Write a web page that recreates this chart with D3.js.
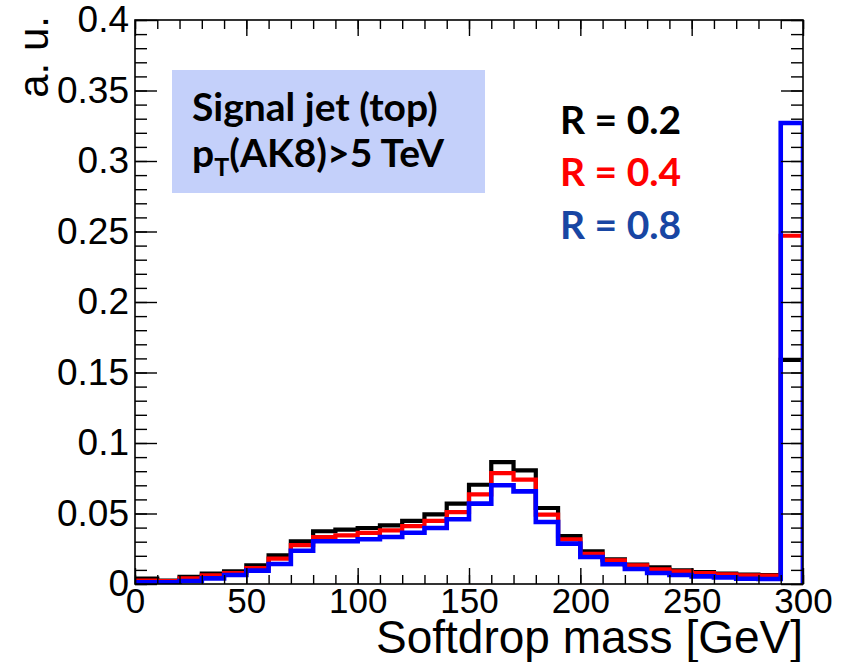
<!DOCTYPE html>
<html><head><meta charset="utf-8">
<script src="https://cdn.jsdelivr.net/npm/d3@7"></script>
<style>html,body{margin:0;padding:0;background:#fff;} svg{display:block;}</style>
</head><body><svg id="c" width="848" height="662"></svg>
<script>
// ---- data ----
const binLow = [0,10,20,30,40,50,60,70,80,90,100,110,120,130,140,150,160,170,180,190,200,210,220,230,240,250,260,270,280,290];
const binWidth = 10;
const seriesLabels = ["R = 0.2", "R = 0.4", "R = 0.8"];
const r02 = [0.0038,0.0024,0.0050,0.0073,0.0090,0.0132,0.0203,0.0302,0.0374,0.0385,0.0397,0.0416,0.0447,0.0494,0.0570,0.0704,0.0865,0.0806,0.0539,0.0340,0.0232,0.0175,0.0137,0.0118,0.0097,0.0085,0.0073,0.0066,0.0064,0.1590];
const r04 = [0.0025,0.0020,0.0040,0.0061,0.0078,0.0113,0.0180,0.0276,0.0333,0.0345,0.0362,0.0380,0.0411,0.0447,0.0510,0.0636,0.0787,0.0740,0.0492,0.0317,0.0213,0.0167,0.0132,0.0104,0.0090,0.0078,0.0069,0.0061,0.0060,0.2470];
const r08 = [0.0012,0.0012,0.0021,0.0040,0.0064,0.0095,0.0142,0.0236,0.0303,0.0303,0.0317,0.0333,0.0364,0.0397,0.0459,0.0570,0.0700,0.0657,0.0440,0.0286,0.0191,0.0140,0.0106,0.0078,0.0064,0.0054,0.0047,0.0037,0.0035,0.3270];
const xTickValues = [0,50,100,150,200,250,300];
const xTickLabels = ["0","50","100","150","200","250","300"];
const yTickValues = [0,0.05,0.1,0.15,0.2,0.25,0.3,0.35,0.4];
const yTickLabels = ["0","0.05","0.1","0.15","0.2","0.25","0.3","0.35","0.4"];
const xTitle = "Softdrop mass [GeV]";
const yTitle = "a. u.";
const infoLine1 = "Signal jet (top)";

// ---- layout ----
const L = 135, R = 803, T = 20, B = 584;
const svg = d3.select("#c");
const x = d3.scaleLinear().domain([0,300]).range([L,R]);
const y = d3.scaleLinear().domain([0,0.4]).range([B,T]);

const series = [
  {vals: r02, color: "#000000", width: 4.2},
  {vals: r04, color: "#ff0000", width: 4.2},
  {vals: r08, color: "#0000ff", width: 4.6}
];

svg.append("defs").append("clipPath").attr("id","pc")
  .append("rect").attr("x",L).attr("y",T).attr("width",R-L).attr("height",B-T);

const line = d3.line().x(d=>x(d[0])).y(d=>y(d[1])).curve(d3.curveStepAfter);
const g = svg.append("g").attr("clip-path","url(#pc)");
series.forEach(s=>{
  const pts = [[binLow[0],0]];
  s.vals.forEach((v,i)=>pts.push([binLow[i],v]));
  const last = s.vals[s.vals.length-1];
  pts.push([binLow[binLow.length-1]+binWidth,last]);
  pts.push([binLow[binLow.length-1]+binWidth,0]);
  g.append("path").attr("d",line(pts)).attr("fill","none")
   .attr("stroke",s.color).attr("stroke-width",s.width).attr("stroke-linejoin","miter");
});

const fontTick = "'Liberation Sans', Arial, sans-serif";
function styleAxis(sel){
  sel.select(".domain").remove();
  sel.selectAll("line").attr("stroke","#000").attr("stroke-width",1.4);
  sel.selectAll("text").attr("font-family",fontTick).attr("font-size",35).attr("fill","#000");
}
// bottom
svg.append("g").attr("transform",`translate(0,${B})`)
  .call(d3.axisBottom(x).tickValues(xTickValues).tickSize(-16).tickPadding(4)
        .tickFormat((d,i)=>xTickLabels[i])).call(styleAxis);
svg.append("g").attr("transform",`translate(0,${B})`)
  .call(d3.axisBottom(x).ticks(30).tickSize(-9).tickFormat("")).call(styleAxis);
// top ticks
svg.append("g").attr("transform",`translate(0,${T})`)
  .call(d3.axisTop(x).tickValues(xTickValues).tickSize(-16).tickFormat("")).call(styleAxis);
svg.append("g").attr("transform",`translate(0,${T})`)
  .call(d3.axisTop(x).ticks(30).tickSize(-9).tickFormat("")).call(styleAxis);
// left
svg.append("g").attr("transform",`translate(${L},0)`)
  .call(d3.axisLeft(y).tickValues(yTickValues).tickSize(-22).tickPadding(6)
        .tickFormat((d,i)=>yTickLabels[i])).call(styleAxis)
  .selectAll("text").attr("font-size",37);
svg.append("g").attr("transform",`translate(${L},0)`)
  .call(d3.axisLeft(y).ticks(40).tickSize(-12).tickFormat("")).call(styleAxis);
// right
svg.append("g").attr("transform",`translate(${R},0)`)
  .call(d3.axisRight(y).tickValues(yTickValues).tickSize(-22).tickFormat("")).call(styleAxis);
svg.append("g").attr("transform",`translate(${R},0)`)
  .call(d3.axisRight(y).ticks(40).tickSize(-12).tickFormat("")).call(styleAxis);

// frame
svg.append("rect").attr("x",L).attr("y",T).attr("width",R-L).attr("height",B-T)
  .attr("fill","none").attr("stroke","#000").attr("stroke-width",1.6);

// titles
svg.append("text").attr("x",R).attr("y",653).attr("text-anchor","end")
  .attr("font-family",fontTick).attr("font-size",46).text(xTitle);
svg.append("text").attr("transform",`translate(48,${T-4}) rotate(-90)`).attr("text-anchor","end")
  .attr("font-family",fontTick).attr("font-size",42).text(yTitle);

// info box
const fontLeg = "Lato, 'Open Sans', sans-serif";
svg.append("rect").attr("x",172).attr("y",70).attr("width",313).attr("height",123).attr("fill","#c4d0fa");
svg.append("text").attr("x",192).attr("y",121).attr("font-family",fontLeg).attr("font-weight","bold")
  .attr("font-size",39).attr("fill","#000").text(infoLine1);
const t2 = svg.append("text").attr("x",192).attr("y",167).attr("font-family",fontLeg).attr("font-weight","bold")
  .attr("font-size",39).attr("fill","#000");
t2.append("tspan").text("p");
t2.append("tspan").attr("font-size",25).attr("dy",9).text("T");
t2.append("tspan").attr("dy",-9).text("(AK8)>5 TeV");

// legend
const legColors = ["#000000","#ff0000","#1846a3"];
const legY = [134,186,239];
seriesLabels.forEach((lab,i)=>{
  svg.append("text").attr("x",560).attr("y",legY[i]).attr("font-family",fontLeg).attr("font-weight","bold")
    .attr("font-size",39).attr("fill",legColors[i]).text(lab);
});
</script></body></html>
